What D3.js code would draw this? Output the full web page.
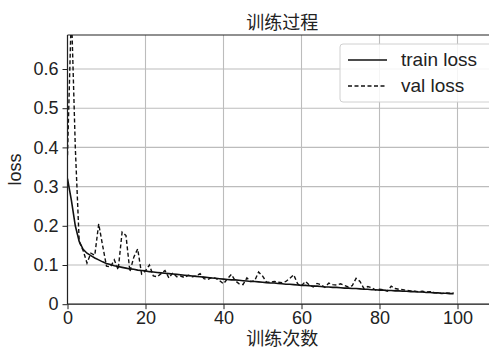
<!DOCTYPE html>
<html>
<head>
<meta charset="utf-8">
<script src="https://cdn.jsdelivr.net/npm/d3@7"></script>
<style>
html,body{margin:0;padding:0;background:#fff;overflow:hidden;}
svg{display:block;}
text{font-family:"Liberation Sans",Arial,"Noto Sans CJK SC",sans-serif;}
.cjk{font-family:"Noto Sans CJK SC","Liberation Sans",sans-serif;}
</style>
</head>
<body>
<svg id="chart" width="489" height="350"></svg>
<script>
const title = "训练过程";
const xLabel = "训练次数";
const yLabel = "loss";
const seriesNames = ["train loss", "val loss"];
const xTicks = [0, 20, 40, 60, 80, 100];
const yTicks = [0, 0.1, 0.2, 0.3, 0.4, 0.5, 0.6];
const yTickLabels = ["0", "0.1", "0.2", "0.3", "0.4", "0.5", "0.6"];

const trainLoss = [
0.320,0.265,0.200,0.160,0.140,0.130,0.124,0.118,0.113,0.108,
0.104,0.101,0.098,0.096,0.094,0.092,0.090,0.089,0.087,0.086,
0.085,0.083,0.082,0.081,0.080,0.079,0.078,0.077,0.076,0.075,
0.074,0.073,0.072,0.071,0.070,0.069,0.068,0.067,0.066,0.065,
0.064,0.063,0.062,0.062,0.061,0.060,0.059,0.058,0.058,0.057,
0.056,0.055,0.054,0.054,0.053,0.052,0.051,0.051,0.050,0.049,
0.048,0.048,0.047,0.046,0.046,0.045,0.044,0.044,0.043,0.043,
0.042,0.041,0.041,0.040,0.040,0.039,0.038,0.038,0.037,0.037,
0.036,0.036,0.035,0.035,0.034,0.034,0.033,0.033,0.032,0.032,
0.031,0.031,0.030,0.030,0.029,0.029,0.028,0.028,0.027,0.027];

const valLoss = [
0.380,0.750,0.400,0.160,0.137,0.105,0.130,0.125,0.205,0.150,
0.097,0.095,0.113,0.088,0.184,0.175,0.083,0.120,0.141,0.077,
0.085,0.100,0.072,0.070,0.078,0.086,0.067,0.080,0.070,0.072,
0.068,0.074,0.070,0.072,0.078,0.065,0.063,0.068,0.066,0.060,
0.052,0.065,0.076,0.060,0.052,0.050,0.067,0.058,0.060,0.082,
0.072,0.057,0.056,0.058,0.056,0.055,0.058,0.066,0.075,0.052,
0.047,0.058,0.049,0.044,0.053,0.050,0.043,0.054,0.050,0.049,
0.052,0.048,0.044,0.047,0.066,0.058,0.040,0.045,0.042,0.036,
0.038,0.037,0.033,0.046,0.040,0.038,0.037,0.035,0.034,0.033,
0.032,0.033,0.031,0.032,0.030,0.029,0.027,0.029,0.028,0.029];

const svg = d3.select("#chart");
const L = 67.5, R = 497, T = 35, B = 304.2;
const x = d3.scaleLinear().domain([0, (R - L) / 3.9]).range([L, R]);
const y = d3.scaleLinear().domain([0, (B - T) / 392]).range([B, T]);

svg.append("defs").append("clipPath").attr("id", "clip")
  .append("rect").attr("x", L).attr("y", T).attr("width", R - L).attr("height", B - T);

// grid
const g = svg.append("g");
g.selectAll(".gx").data(xTicks).enter().append("line")
  .attr("x1", d => x(d)).attr("x2", d => x(d)).attr("y1", T).attr("y2", B)
  .attr("stroke", "#bcbcbc").attr("stroke-width", 1.1);
g.selectAll(".gy").data(yTicks).enter().append("line")
  .attr("x1", L).attr("x2", R).attr("y1", d => y(d)).attr("y2", d => y(d))
  .attr("stroke", "#bcbcbc").attr("stroke-width", 1.1);

// lines
const line = d3.line().x((d, i) => x(i)).y(d => y(d));
const lg = svg.append("g").attr("clip-path", "url(#clip)");
lg.append("path").datum(trainLoss).attr("d", line)
  .attr("fill", "none").attr("stroke", "#111").attr("stroke-width", 1.6);
lg.append("path").datum(valLoss).attr("d", line)
  .attr("fill", "none").attr("stroke", "#111").attr("stroke-width", 1.4)
  .attr("stroke-dasharray", "4,2.5");

// axes
const xAxis = d3.axisBottom(x).tickValues(xTicks).tickSize(5).tickPadding(2).tickFormat(d3.format("d"));
const yAxis = d3.axisLeft(y).tickValues(yTicks).tickSize(5).tickPadding(4).tickFormat((d, i) => yTickLabels[i]);
const xa = svg.append("g").attr("transform", `translate(0,${B})`).call(xAxis);
const ya = svg.append("g").attr("transform", `translate(${L},0)`).call(yAxis);
[xa, ya].forEach(a => {
  a.select(".domain").remove();
  a.selectAll("line").attr("stroke", "#222");
  a.selectAll("text").attr("fill", "#222").style("font-size", "18px")
    .style("font-family", '"Liberation Sans",Arial,sans-serif');
});

// spines
svg.append("line").attr("x1", L).attr("x2", L).attr("y1", T).attr("y2", B).attr("stroke", "#222").attr("stroke-width", 1.2);
svg.append("line").attr("x1", L).attr("x2", R).attr("y1", B).attr("y2", B).attr("stroke", "#222").attr("stroke-width", 1.2);
svg.append("line").attr("x1", L).attr("x2", R).attr("y1", T).attr("y2", T).attr("stroke", "#222").attr("stroke-width", 1.2);

// title & labels
svg.append("text").attr("class", "cjk").attr("x", (L + R) / 2).attr("y", 29)
  .attr("text-anchor", "middle").style("font-size", "18px").attr("fill", "#222").text(title);
svg.append("text").attr("class", "cjk").attr("x", (L + R) / 2).attr("y", 345)
  .attr("text-anchor", "middle").style("font-size", "18px").attr("fill", "#222").text(xLabel);
svg.append("text").attr("transform", `translate(21,${(T + B) / 2}) rotate(-90)`)
  .attr("text-anchor", "middle").style("font-size", "18px").attr("fill", "#222").text(yLabel);

// legend
const leg = svg.append("g");
leg.append("rect").attr("x", 340).attr("y", 44).attr("width", 160).attr("height", 58)
  .attr("rx", 3).attr("fill", "#fff").attr("fill-opacity", 0.85)
  .attr("stroke", "#d0d0d0").attr("stroke-width", 1);
const legY = [60, 86];
seriesNames.forEach((name, i) => {
  leg.append("line").attr("x1", 348).attr("x2", 387).attr("y1", legY[i]).attr("y2", legY[i])
    .attr("stroke", "#111").attr("stroke-width", 1.5)
    .attr("stroke-dasharray", i === 1 ? "4,2.5" : null);
  leg.append("text").attr("x", 401).attr("y", legY[i] + 6)
    .style("font-size", "19px").attr("fill", "#222").text(name);
});
</script>
</body>
</html>
